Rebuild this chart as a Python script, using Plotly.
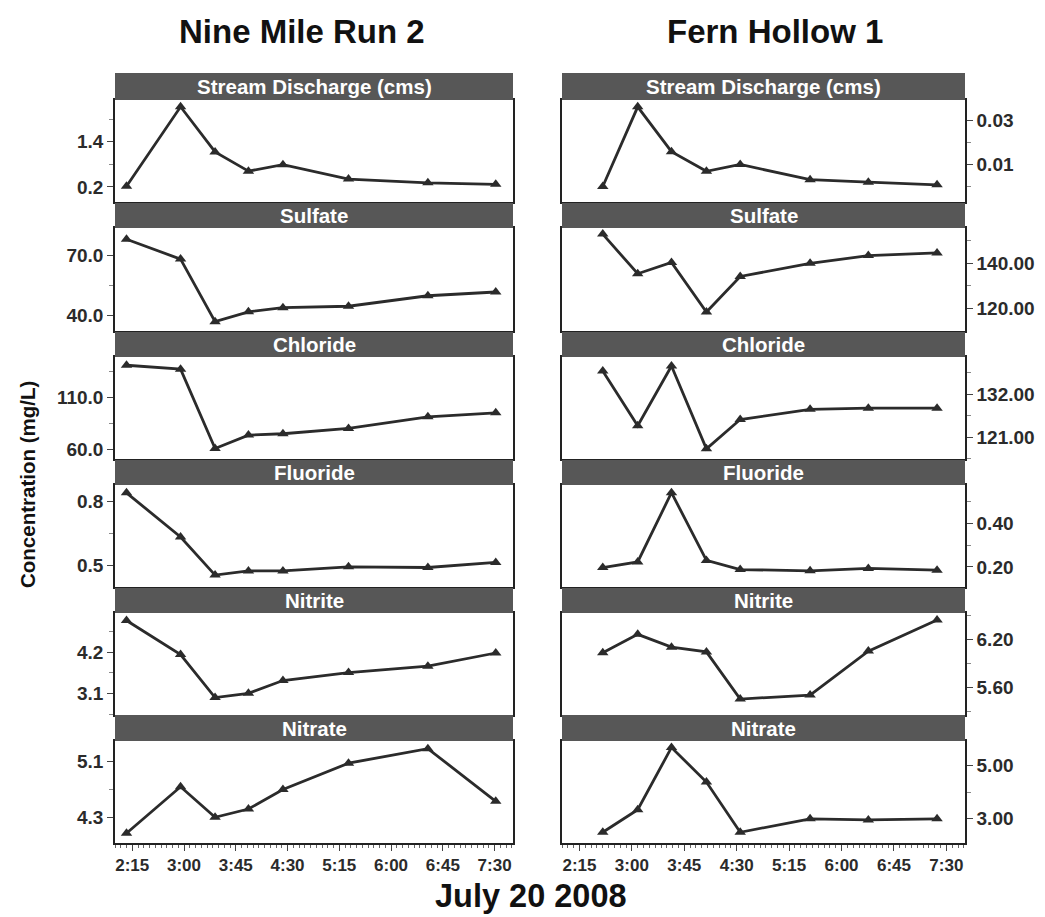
import plotly.graph_objects as go

# ---------------- data ----------------
panel_titles = ["Stream Discharge (cms)", "Sulfate", "Chloride", "Fluoride", "Nitrite", "Nitrate"]
site_names = ["Nine Mile Run 2", "Fern Hollow 1"]

nmr_times = ["02:10", "02:57", "03:27", "03:56", "04:26", "05:23", "06:32", "07:31"]
fh_times = ["02:35", "03:05", "03:34", "04:04", "04:33", "05:33", "06:23", "07:22"]

nmr_discharge = [0.22, 2.33, 1.13, 0.62, 0.79, 0.41, 0.31, 0.27]
nmr_sulfate = [78.3, 68.3, 36.7, 41.7, 43.8, 44.5, 49.8, 51.7]
nmr_chloride = [141.0, 137.2, 61.2, 74.0, 75.3, 80.4, 91.5, 95.4]
nmr_fluoride = [0.841, 0.633, 0.453, 0.473, 0.473, 0.492, 0.489, 0.513]
nmr_nitrite = [5.04, 4.14, 3.00, 3.11, 3.45, 3.66, 3.83, 4.18]
nmr_nitrate = [4.07, 4.74, 4.30, 4.42, 4.70, 5.08, 5.29, 4.53]

fh_discharge = [0.0000, 0.0361, 0.0158, 0.0069, 0.0100, 0.0031, 0.0020, 0.0008]
fh_sulfate = [152.9, 135.4, 140.4, 118.5, 134.2, 140.0, 143.4, 144.6]
fh_chloride = [137.9, 123.9, 139.2, 118.0, 125.5, 128.1, 128.4, 128.4]
fh_fluoride = [0.197, 0.223, 0.541, 0.230, 0.188, 0.182, 0.193, 0.185]
fh_nitrite = [6.03, 6.26, 6.10, 6.04, 5.45, 5.50, 6.05, 6.44]
fh_nitrate = [2.50, 3.34, 5.66, 4.37, 2.50, 3.00, 2.96, 3.00]

nmr_ticks = [[0.2, 1.4], [40.0, 70.0], [60.0, 110.0], [0.5, 0.8], [3.1, 4.2], [4.3, 5.1]]
fh_ticks = [[0.01, 0.03], [120.0, 140.0], [121.0, 132.0], [0.20, 0.40], [5.60, 6.20], [3.00, 5.00]]

x_tick_times = ["02:15", "03:00", "03:45", "04:30", "05:15", "06:00", "06:45", "07:30"]
x_tick_labels = ["2:15", "3:00", "3:45", "4:30", "5:15", "6:00", "6:45", "7:30"]
date_str = "2008-07-20"

# ---------------- layout settings ----------------
OFF = 8  # page body margin
W, H = 1045 - OFF, 917 - OFF
FONT = "Liberation Sans, Arial, sans-serif"
INK = "#2b2b2b"

nmr_series = [nmr_discharge, nmr_sulfate, nmr_chloride, nmr_fluoride, nmr_nitrite, nmr_nitrate]
fh_series = [fh_discharge, fh_sulfate, fh_chloride, fh_fluoride, fh_nitrite, fh_nitrate]

nmr_ranges = [[-0.2, 2.51], [32.0, 84.0], [51.1, 148.9], [0.397, 0.878], [2.55, 5.24], [3.93, 5.40]]
fh_ranges = [[-0.007, 0.0392], [110.1, 155.6], [115.4, 141.5], [0.108, 0.576], [5.257, 6.527], [2.1, 5.9]]
nmr_fmt = ["%.1f"] * 6
fh_fmt = ["%.2f"] * 6

col_x = [(115, 513), (562, 965)]
header_rows = [(73, 100), (203, 228), (332, 357), (460, 485), (588, 613), (715, 741)]
plot_rows = [(100, 202), (228, 331), (357, 459), (485, 587), (613, 714.5), (741, 843)]


def px_x(v):
    return (v - OFF) / W


def px_y(v):
    return 1 - (v - OFF) / H


fig = go.Figure()
layout = dict(
    width=W, height=H,
    margin=dict(l=0, r=0, t=0, b=0),
    paper_bgcolor="white", plot_bgcolor="white",
    showlegend=False,
    font=dict(family=FONT, color=INK),
)
shapes = []
annotations = []

xr = [f"{date_str} 02:00", f"{date_str} 07:46"]
tickvals_x = [f"{date_str} {t}" for t in x_tick_times]

idx = 0
for c, (series, times, ticks, ranges, fmts) in enumerate([
        (nmr_series, nmr_times, nmr_ticks, nmr_ranges, nmr_fmt),
        (fh_series, fh_times, fh_ticks, fh_ranges, fh_fmt)]):
    x0, x1 = col_x[c]
    xs = [f"{date_str} {t}" for t in times]
    for r in range(6):
        idx += 1
        xa = "x" if idx == 1 else f"x{idx}"
        ya = "y" if idx == 1 else f"y{idx}"
        fig.add_trace(go.Scatter(
            x=xs, y=series[r], xaxis=xa, yaxis=ya, mode="lines+markers",
            line=dict(color=INK, width=2.8),
            marker=dict(symbol="triangle-up", size=10, color=INK),
            cliponaxis=False,
        ))
        top, bot = plot_rows[r]
        is_bottom = (r == 5)
        xaxis = dict(
            domain=[px_x(x0), px_x(x1)], anchor=ya, type="date", range=xr,
            showline=True, mirror=True, linecolor="#222", linewidth=1.5,
            showgrid=False, zeroline=False,
            tickmode="array", tickvals=tickvals_x, ticktext=x_tick_labels,
            showticklabels=is_bottom,
            ticks="outside" if is_bottom else "", ticklen=6, tickwidth=1.2, tickcolor="#444",
            tickfont=dict(family=FONT, size=17, color=INK, weight="bold"),
        )
        if is_bottom:
            xaxis["minor"] = dict(ticks="outside", ticklen=3, tickwidth=1, tickcolor="#666",
                                  dtick=5 * 60 * 1000, tick0=f"{date_str} 02:00")
        t0, t1 = ticks[r]
        yaxis = dict(
            domain=[px_y(bot), px_y(top)], anchor=xa, range=ranges[r],
            side="left" if c == 0 else "right",
            showline=True, mirror=True, linecolor="#222", linewidth=1.5,
            showgrid=False, zeroline=False,
            tickmode="array", tickvals=ticks[r], ticktext=[fmts[r] % v for v in ticks[r]],
            ticks="outside", ticklen=6, tickwidth=1.2, tickcolor="#444",
            tickfont=dict(family=FONT, size=19, color=INK, weight="bold"),
            minor=dict(ticks="outside", ticklen=4, tickwidth=1, tickcolor="#888",
                       tickvals=[t0 - (t1 - t0) / 2, t0 + (t1 - t0) / 2, t1 + (t1 - t0) / 2]),
        )
        layout["xaxis" if idx == 1 else f"xaxis{idx}"] = xaxis
        layout["yaxis" if idx == 1 else f"yaxis{idx}"] = yaxis

        # header bar
        ht, hb = header_rows[r]
        shapes.append(dict(type="rect", xref="paper", yref="paper",
                           x0=px_x(x0), x1=px_x(x1), y0=px_y(hb), y1=px_y(ht),
                           fillcolor="#575757", line=dict(width=0), layer="above"))
        annotations.append(dict(text=panel_titles[r], xref="paper", yref="paper",
                                x=px_x((x0 + x1) / 2), y=px_y((ht + hb) / 2),
                                xanchor="center", yanchor="middle", showarrow=False,
                                font=dict(family=FONT, size=20.5, color="white", weight="bold")))

    annotations.append(dict(text=site_names[c], xref="paper", yref="paper",
                            x=px_x(302 if c == 0 else 775), y=px_y(31),
                            xanchor="center", yanchor="middle", showarrow=False,
                            font=dict(family=FONT, size=33, color="#111", weight="bold")))

annotations.append(dict(text="July 20 2008", xref="paper", yref="paper",
                        x=px_x(531), y=px_y(896), xanchor="center", yanchor="middle",
                        showarrow=False,
                        font=dict(family=FONT, size=32.5, color="#111", weight="bold")))
annotations.append(dict(text="Concentration (mg/L)", xref="paper", yref="paper",
                        x=px_x(27), y=px_y(485), xanchor="center", yanchor="middle",
                        textangle=-90, showarrow=False,
                        font=dict(family=FONT, size=20.5, color="#111", weight="bold")))

layout["shapes"] = shapes
layout["annotations"] = annotations
fig.update_layout(**layout)
fig.write_html("out.html")
